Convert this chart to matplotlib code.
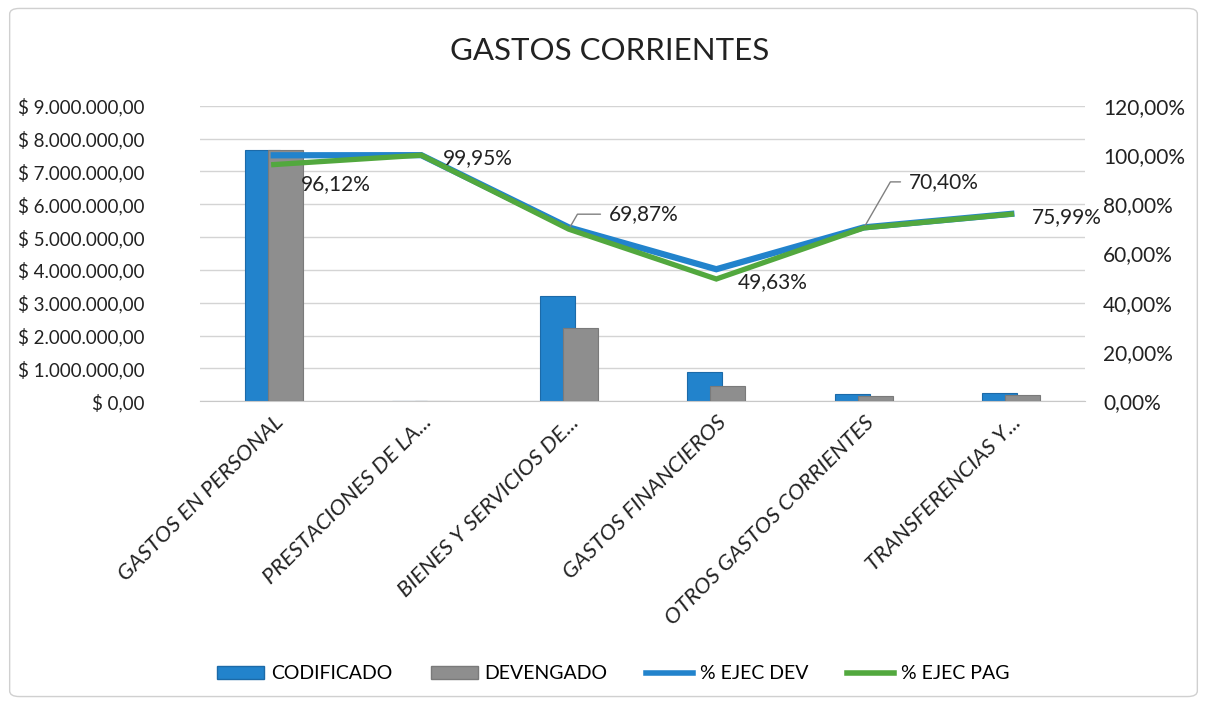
import matplotlib
matplotlib.use("Agg")
import matplotlib.pyplot as plt
import numpy as np
from matplotlib.ticker import FuncFormatter, MultipleLocator
from matplotlib.patches import FancyBboxPatch, Patch
from matplotlib.lines import Line2D

plt.rcParams['font.family'] = ['Lato', 'DejaVu Sans']

categories = ["GASTOS EN PERSONAL", "PRESTACIONES DE LA...", "BIENES Y SERVICIOS DE...",
              "GASTOS FINANCIEROS", "OTROS GASTOS CORRIENTES", "TRANSFERENCIAS Y..."]
codificado = [7650000, 4000, 3200000, 890000, 210000, 250000]
devengado = [7640000, 4000, 2220000, 470000, 150000, 195000]
ejec_dev = [99.9, 99.95, 70.6, 53.6, 70.6, 76.1]
ejec_pag = [96.12, 99.95, 69.87, 49.63, 70.40, 75.99]
pag_labels = ["96,12%", "99,95%", "69,87%", "49,63%", "70,40%", "75,99%"]

BLUE = "#2283cc"
GREY = "#8e8e8e"
GREEN = "#52a83e"
DBLUE = "#1c6aa8"

fig = plt.figure(figsize=(12.07, 7.05), dpi=100)
fig.patch.set_facecolor("white")
border = FancyBboxPatch((0.008, 0.012), 0.984, 0.976, boxstyle="round,pad=0,rounding_size=0.008",
                        transform=fig.transFigure, fill=False, edgecolor="#d0d0d0", lw=1.0)
fig.patches.append(border)

ax = fig.add_axes([0.1657, 0.431, 0.7333, 0.4189])
x = np.arange(len(categories))
bw = 0.237
off = 0.078
ax.bar(x - off, codificado, bw, color=BLUE, edgecolor=DBLUE, lw=0.8, zorder=2)
ax.bar(x + off, devengado, bw, color=GREY, edgecolor="#7a7a7a", lw=0.8, zorder=3)
ax.set_xlim(-0.5, len(categories) - 0.5)
ax.set_ylim(0, 9000000)
ax.yaxis.set_major_locator(MultipleLocator(1000000))

def money(v, pos):
    s = f"{v:,.2f}".replace(",", "X").replace(".", ",").replace("X", ".")
    return "$ " + s
ax.yaxis.set_major_formatter(FuncFormatter(money))
ax.grid(axis="y", color="#d4d4d4", lw=1.0, zorder=0)
ax.set_axisbelow(True)
for s in ["top", "right", "left"]:
    ax.spines[s].set_visible(False)
ax.spines["bottom"].set_color("#c8c8c8")
ax.tick_params(axis="y", length=0, labelsize=13.5, pad=40, colors="#222222")
ax.tick_params(axis="x", length=0, labelsize=16, pad=8, colors="#222222")
ax.set_xticks(x)
ax.set_xticklabels(categories, rotation=45, ha="right", rotation_mode="anchor", style="italic")

ax2 = ax.twinx()
ax2.set_ylim(0, 120)
ax2.yaxis.set_major_locator(MultipleLocator(20))
ax2.yaxis.set_major_formatter(FuncFormatter(lambda v, p: f"{v:.2f}".replace(".", ",") + "%"))
for s in ["top", "right", "left", "bottom"]:
    ax2.spines[s].set_visible(False)
ax2.tick_params(axis="y", length=0, labelsize=15, pad=13, colors="#222222")
ax2.plot(x, ejec_dev, color=BLUE, lw=4.5, solid_joinstyle="miter", zorder=4)
ax2.plot(x, ejec_pag, color=GREEN, lw=3.8, solid_joinstyle="miter", zorder=5)

offsets = [(27, -20), (22, -3), (40, 15), (21, -3), (45, 46), (21, -3)]
leader = [False, False, True, False, True, False]
for i, (lab, (dx, dy)) in enumerate(zip(pag_labels, offsets)):
    if leader[i]:
        ax2.annotate(lab, (x[i], ejec_pag[i]), xytext=(dx, dy), textcoords="offset pixels",
                     fontsize=15, va="center", ha="left", color="#222222",
                     arrowprops=dict(arrowstyle="-", color="#808080", lw=1.0,
                                     connectionstyle="angle,angleA=0,angleB=60,rad=0",
                                     shrinkA=4, shrinkB=2), zorder=6)
    else:
        ax2.annotate(lab, (x[i], ejec_pag[i]), xytext=(dx, dy), textcoords="offset pixels",
                     fontsize=15, va="center", ha="left", color="#222222", zorder=6)

fig.text(0.505, 0.928, "GASTOS CORRIENTES", ha="center", va="center", fontsize=22.5, color="#222222")

handles = [Patch(facecolor=BLUE, edgecolor=DBLUE), Patch(facecolor=GREY, edgecolor="#7a7a7a"),
           Line2D([0], [0], color=BLUE, lw=4), Line2D([0], [0], color=GREEN, lw=4)]
labels = ["CODIFICADO", "DEVENGADO", "% EJEC DEV", "% EJEC PAG"]
fig.legend(handles, labels, loc="center", bbox_to_anchor=(0.508, 0.044), ncol=4, frameon=False,
           fontsize=14, handlelength=2.4, handleheight=0.6, columnspacing=2.0, handletextpad=0.35)

fig.savefig("out.png", dpi=100)
